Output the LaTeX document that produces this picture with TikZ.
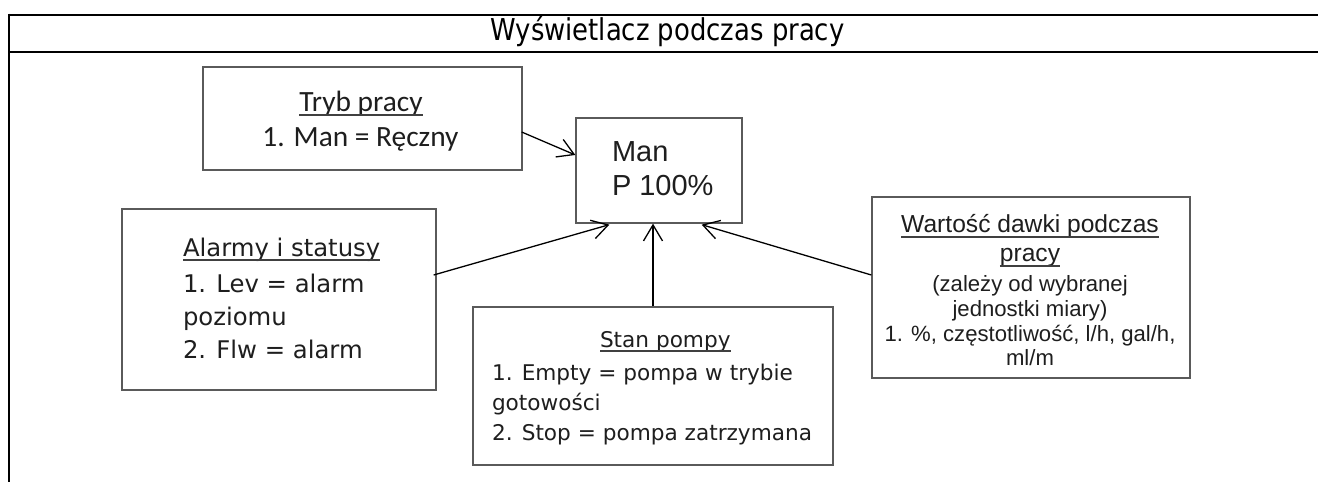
\documentclass[tikz,border=0pt]{standalone}
\usepackage{fontspec}
\usetikzlibrary{arrows.meta,calc,shadows}
\newfontfamily\fcal{Carlito}
\newfontfamily\fdv{DejaVu Sans}
\newfontfamily\farial{Liberation Sans}
\definecolor{ink}{HTML}{1E1E1E}
\definecolor{edge}{HTML}{5A5A5A}
\tikzset{
  frame/.style={line width=2.6bp, black},
  box/.style={draw=edge, line width=1.3bp, fill=white, rectangle, inner sep=0pt,
    drop shadow={shadow xshift=1.3bp, shadow yshift=-1.3bp, fill=black!35, opacity=1}},
  txt/.style={inner sep=0pt, outer sep=0pt, text=ink},
  uline/.style={line width=1.8bp, ink!85},
  arr/.style={line width=1.3bp, black, -{Straight Barb[length=16bp,width=19bp,line width=1.3bp]}},
  cal/.style={txt, font=\fcal\fontsize{29.5}{35}\selectfont},
  dvA/.style={txt, font=\fdv\fontsize{24.4}{33}\selectfont},
  dvS/.style={txt, font=\fdv\fontsize{21.7}{30}\selectfont},
  arH/.style={txt, font=\farial\fontsize{24.7}{28}\selectfont},
  arB/.style={txt, font=\farial\fontsize{22.2}{25}\selectfont},
  arC/.style={txt, font=\farial\fontsize{29.1}{34}\selectfont},
}
\begin{document}
\begin{tikzpicture}[x=1bp, y=-1bp]
\useasboundingbox (0,0) rectangle (1318,482);

% table cell with its heading row
\draw[frame] (9,15) -- (1318,15);
\draw[frame] (9,52) -- (1318,52);
\draw[frame] (9,13.7) -- (9,482);
\node[txt, anchor=base, text=black, font=\fdv\fontsize{30.2}{34}\selectfont] (title) at (667.5,41)
  {\scalebox{0.86}[1]{Wyświetlacz podczas pracy}};

% boxes
\node[box, minimum width=319bp, minimum height=103bp] (tryb) at (362.5,118.5) {};
\node[box, minimum width=166bp, minimum height=105bp] (ctr) at (659,170.5) {};
\node[box, minimum width=314bp, minimum height=181bp] (alarm) at (279,299.5) {};
\node[box, minimum width=360bp, minimum height=158bp] (stan) at (653,386) {};
\node[box, minimum width=318bp, minimum height=181bp] (wart) at (1031,287.5) {};

% operating mode
\node[cal, anchor=base] (trybH) at (361,112) {Tryb pracy};
\node[cal, anchor=base] (tryb1) at (360.5,147) {1. Man = Ręczny};
\draw[uline] ([yshift=-3bp]trybH.base west) -- ([yshift=-3bp]trybH.base east);

% display contents
\node[arC, anchor=base west] (ctr1) at (612,162) {Man};
\node[arC, anchor=base west] (ctr2) at (612,196) {P 100\%};

% alarms and statuses
\node[dvA, anchor=base west] (alarmH) at (183,257) {Alarmy i statusy};
\node[dvA, anchor=base west] (alarm1) at (183,292) {1. Lev = alarm};
\node[dvA, anchor=base west] (alarm2) at (183,325) {poziomu};
\node[dvA, anchor=base west] (alarm3) at (183,358) {2. Flw = alarm};
\draw[uline] ([yshift=-3bp]alarmH.base west) -- ([yshift=-3bp]alarmH.base east);

% pump state
\node[dvS, anchor=base west] (stanH) at (600,347) {Stan pompy};
\node[dvS, anchor=base west] (stan1) at (492,380) {1. Empty = pompa w trybie};
\node[dvS, anchor=base west] (stan2) at (492,410) {gotowości};
\node[dvS, anchor=base west] (stan3) at (492,440) {2. Stop = pompa zatrzymana};
\draw[uline] ([yshift=-4bp]stanH.base west) -- ([yshift=-4bp]stanH.base east);

% dose value
\node[arH, anchor=base] (wartH1) at (1030,233) {Wartość dawki podczas};
\node[arH, anchor=base] (wartH2) at (1030,262) {pracy};
\node[arB, anchor=base] (wart1) at (1030,291) {(zależy od wybranej};
\node[arB, anchor=base] (wart2) at (1030,316) {jednostki miary)};
\node[arB, anchor=base] (wart3) at (1030,341) {1. \%, częstotliwość, l/h, gal/h,};
\node[arB, anchor=base] (wart4) at (1030,365) {ml/m};
\draw[uline] ([yshift=-4bp]wartH1.base west) -- ([yshift=-4bp]wartH1.base east);
\draw[uline] ([yshift=-4bp]wartH2.base west) -- ([yshift=-4bp]wartH2.base east);

% connectors into the display box
\draw[arr] ($(tryb.east)+(-1,13.5)$) -- ($(ctr.west)+(0,-15.5)$);
\draw[arr] ($(alarm.east)+(-3,-24.5)$) -- ($(ctr.south west)+(34,1)$);
\draw[arr] (stan.north) -- (stan.north |- ctr.south);
\draw[arr] ($(wart.west)+(0,-12.5)$) -- ($(ctr.south east)+(-41,1)$);
\end{tikzpicture}
\end{document}
